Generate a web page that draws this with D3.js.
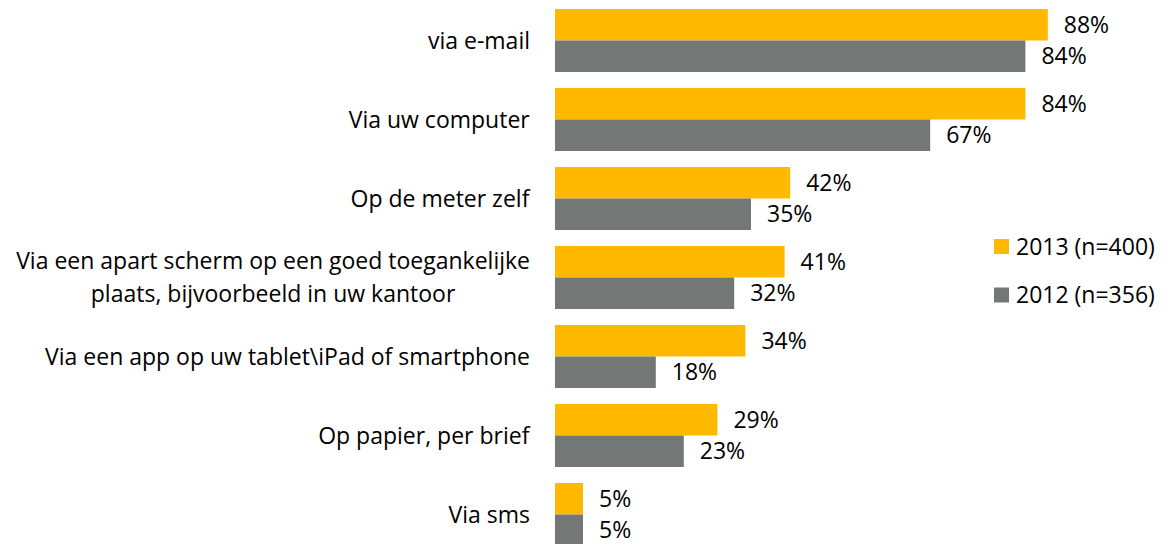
<!DOCTYPE html>
<html>
<head>
<meta charset="utf-8">
<script src="https://cdn.jsdelivr.net/npm/d3@7"></script>
<style>
  body { margin: 0; background: #fff; }
  text { font-family: "Open Sans", sans-serif; fill: #000; }
</style>
</head>
<body>
<div id="chart"></div>
<script>
// categories and values (percent)
var categories = [
  ["via e-mail"],
  ["Via uw computer"],
  ["Op de meter zelf"],
  ["Via een apart scherm op een goed toegankelijke", "plaats, bijvoorbeeld in uw kantoor"],
  ["Via een app op uw tablet\\iPad of smartphone"],
  ["Op papier, per brief"],
  ["Via sms"]
];
var values2013 = [88, 84, 42, 41, 34, 29, 5];
var values2012 = [84, 67, 35, 32, 18, 23, 5];
var seriesNames = ["2013 (n=400)", "2012 (n=356)"];
var seriesColors = ["#FFB900", "#737877"];

var fs = '23px';
var w = 1171, h = 544;
var svg = d3.select('#chart').append('svg').attr('width', w).attr('height', h);

var x = d3.scaleLinear().domain([0, 100]).range([555, 1115]);
var y = d3.scaleBand().domain(d3.range(categories.length)).range([1, 554]).paddingInner(0.2025).paddingOuter(0.1013);
var sub = d3.scaleBand().domain([0, 1]).range([0, y.bandwidth()]);

var rows = categories.map(function(c, i) {
  return {i: i, label: c, vals: [values2013[i], values2012[i]]};
});

var groups = svg.selectAll('g.row').data(rows).enter().append('g').attr('class', 'row')
  .attr('transform', function(d) { return 'translate(0,' + y(d.i) + ')'; });

groups.selectAll('rect').data(function(d) { return d.vals; }).enter().append('rect')
  .attr('x', x(0))
  .attr('y', function(d, k) { return sub(k); })
  .attr('width', function(d) { return x(d) - x(0); })
  .attr('height', sub.bandwidth())
  .attr('fill', function(d, k) { return seriesColors[k]; });

// value labels
groups.selectAll('text.val').data(function(d) { return d.vals; }).enter().append('text').attr('class', 'val')
  .attr('x', function(d) { return x(d) + 16; })
  .attr('y', function(d, k) { return sub(k) + sub.bandwidth() / 2; })
  .attr('dy', '0.35em')
  .style('font-size', fs)
  .text(function(d) { return d + '%'; });

// category labels, multi-line ones centred on each other, block right aligned
groups.append('text').attr('class', 'cat')
  .attr('text-anchor', 'middle')
  .style('font-size', fs)
  .each(function(d) {
    var t = d3.select(this), n = d.label.length;
    d.label.forEach(function(line, j) {
      t.append('tspan').attr('x', 0)
        .attr('y', y.bandwidth() / 2 + (j - (n - 1) / 2) * 33)
        .attr('dy', '0.35em').text(line);
    });
    var bb = this.getBBox();
    t.attr('transform', 'translate(' + (530 - bb.width / 2) + ',0)');
  });

// legend
var legend = svg.append('g').attr('transform', 'translate(994,246.5)');
var items = legend.selectAll('g').data(seriesNames).enter().append('g')
  .attr('transform', function(d, k) { return 'translate(0,' + (k * 48.5) + ')'; });
items.append('rect').attr('x', 0).attr('y', -7.5).attr('width', 15).attr('height', 15)
  .attr('fill', function(d, k) { return seriesColors[k]; });
items.append('text').attr('x', 22).attr('y', 0).attr('dy', '0.35em').style('font-size', fs)
  .text(function(d) { return d; });
</script>
</body>
</html>
